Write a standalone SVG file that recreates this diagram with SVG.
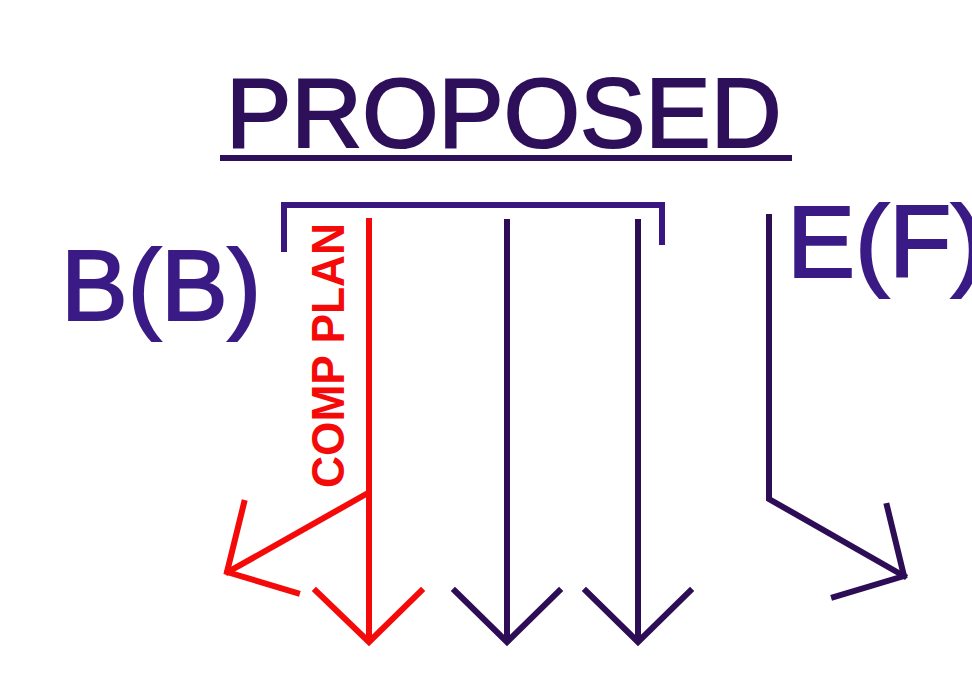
<svg xmlns="http://www.w3.org/2000/svg" width="972" height="695" viewBox="0 0 972 695">
<style>
.dk{fill:none;stroke:#2d0d55;stroke-width:6;stroke-linecap:square;stroke-linejoin:miter}
.br{fill:none;stroke:#3a1680;stroke-width:6;stroke-linecap:square}
.rd{fill:none;stroke:#f50a0a;stroke-width:6;stroke-linecap:square;stroke-linejoin:miter}
.lbl{font-family:"Liberation Sans",Arial,sans-serif;fill:#3a1a85;stroke:#3a1a85;stroke-width:2.2}
</style>
<rect width="972" height="695" fill="#ffffff"/>
<g id="title">
<text class="lbl" x="226" y="147" font-size="98" style="fill:#2e0f5a;stroke:#2e0f5a">PROPOSED</text>
<line x1="220" y1="158" x2="792" y2="158" stroke="#2e0f5a" stroke-width="6"/>
</g>
<g id="label-b">
<text class="lbl" x="61" y="320" font-size="100">B(B)</text>
</g>
<g id="label-e">
<text class="lbl" x="787" y="277" font-size="102">E(F)</text>
</g>
<g id="comp-plan">
<text transform="translate(344,488) rotate(-90)" font-family="Liberation Sans,Arial,sans-serif" font-weight="bold" font-size="47" fill="#f50a0a" textLength="265" lengthAdjust="spacingAndGlyphs">COMP PLAN</text>
</g>
<g id="connectors">
<polyline class="br" points="284,249 284,205 662,205 662,242"/>
<line class="rd" x1="369" y1="221" x2="369" y2="640"/>
<polyline class="rd" points="316,591 369,642 421,591"/>
<line class="rd" x1="368" y1="493" x2="228" y2="572"/>
<polyline class="rd" points="244,503 227,572 297,593"/>
<line class="dk" x1="507" y1="222" x2="507" y2="640"/>
<polyline class="dk" points="455,591 507,642 559,591"/>
<line class="dk" x1="638" y1="222" x2="638" y2="640"/>
<polyline class="dk" points="586,591 638,642 690,591"/>
<polyline class="dk" points="769,217 769,499 904,576"/>
<polyline class="dk" points="887,506 904,576 834,597"/>
</g>
</svg>
